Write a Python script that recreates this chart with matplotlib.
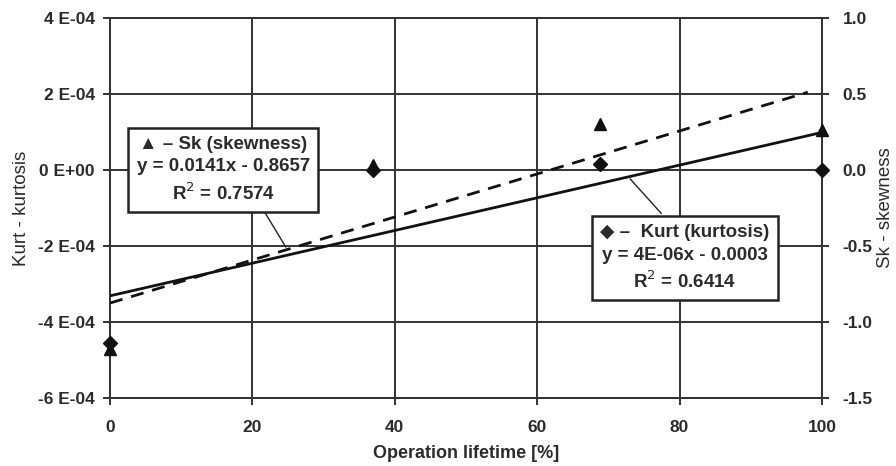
import numpy as np
import matplotlib
matplotlib.use("Agg")
import matplotlib.pyplot as plt

plt.rcParams['font.family'] = ['Liberation Sans', 'DejaVu Sans']

# Data
lifetime = [0, 36.9, 68.8, 100]
kurt = [-4.56e-4, 0.0, 0.16e-4, 0.0]
skew = [-1.18, 0.03, 0.30, 0.26]

kurt_ticks = [-6e-4, -4e-4, -2e-4, 0, 2e-4, 4e-4]
kurt_ticklabels = ["-6 E-04", "-4 E-04", "-2 E-04", "0 E+00", "2 E-04", "4 E-04"]
skew_ticks = [-1.5, -1.0, -0.5, 0.0, 0.5, 1.0]
skew_ticklabels = ["-1.5", "-1.0", "-0.5", "0.0", "0.5", "1.0"]
x_ticks = [0, 20, 40, 60, 80, 100]

sk_label = "\u25B2 \u2013 Sk (skewness)\ny = 0.0141x - 0.8657\nR$^2$ = 0.7574"
ku_label = "\u25C6 \u2013  Kurt (kurtosis)\ny = 4E-06x - 0.0003\nR$^2$ = 0.6414"

TXT = '#2b2b2b'
GRID = '#333333'

fig = plt.figure(figsize=(8.96, 4.66), dpi=100)
ax = fig.add_axes([110/896, 1-398/466, (822-110)/896, (398-18)/466])
ax2 = ax.twinx()
ax.set_zorder(ax2.get_zorder() + 1)
ax.patch.set_visible(False)

ax.set_xlim(0, 100)
ax.set_ylim(-6e-4, 4e-4)
ax2.set_ylim(-1.5, 1.0)

ax.set_xticks(x_ticks)
ax.set_xticklabels([str(t) for t in x_ticks])
ax.set_yticks(kurt_ticks)
ax.set_yticklabels(kurt_ticklabels)
ax2.set_yticks(skew_ticks)
ax2.set_yticklabels(skew_ticklabels)

ax.grid(True, color=GRID, linewidth=1.4, zorder=0)
ax.set_axisbelow(True)
for a in (ax, ax2):
    for s in a.spines.values():
        s.set_color(GRID)
        s.set_linewidth(1.4)
    a.tick_params(axis='both', colors=GRID, labelcolor=TXT, width=1.4, length=5,
                  labelsize=12.5, direction='out')
    for lab in a.get_xticklabels() + a.get_yticklabels():
        lab.set_fontweight('bold')
ax.tick_params(axis='x', pad=11)
ax.tick_params(axis='y', pad=6)
ax2.tick_params(axis='y', pad=10)

T2 = ax2.transData

# Trend lines
xs = np.array([0, 100])
pk = np.polyfit(lifetime, kurt, 1)
ps = np.polyfit(lifetime, skew, 1)
ax.plot(xs, np.polyval(pk, xs), color='#111111', linewidth=2.0, zorder=3)
ax.plot([0, 98], np.polyval(ps, [0, 98]), color='#111111', linewidth=2.0,
        dashes=(4.7, 3.2), zorder=3, transform=T2)

# Markers (triangles below diamonds)
ax.plot(lifetime, skew, linestyle='none', marker='^', markersize=8.5,
        color='#111111', zorder=4, clip_on=False, transform=T2)
ax.plot(lifetime, kurt, linestyle='none', marker='D', markersize=7,
        color='#111111', zorder=5, clip_on=False)

ax.set_xlabel("Operation lifetime [%]", fontsize=13, fontweight='bold', color=TXT, labelpad=7)
ax.set_ylabel("Kurt - kurtosis", fontsize=13.5, color=TXT, labelpad=6)
ax2.set_ylabel("Sk - skewness", fontsize=13.5, color=TXT, labelpad=3)

# Annotation boxes with leader lines
bbox = dict(boxstyle='square,pad=0.45', facecolor='white', edgecolor='#222222', linewidth=1.8)
xl_s = 24.9
ax.annotate("", xy=(xl_s, np.polyval(ps, xl_s)), xytext=(21.5, -0.26),
            xycoords=T2, textcoords=T2,
            arrowprops=dict(arrowstyle='-', color='#222222', lw=1.0), zorder=6)
ax.text(15.9, 0.0, sk_label, ha='center', va='center', fontsize=13.5,
        fontweight='bold', color=TXT, linespacing=1.4, bbox=bbox, zorder=7,
        transform=T2)

xl_k = 72.8
ax.annotate("", xy=(xl_k, np.polyval(pk, xl_k)), xytext=(77.7, -1.2e-4),
            arrowprops=dict(arrowstyle='-', color='#222222', lw=1.0), zorder=6)
ax.text(80.7, -0.58, ku_label, ha='center', va='center', fontsize=13.5,
        fontweight='bold', color=TXT, linespacing=1.4, bbox=bbox, zorder=7,
        transform=T2)

fig.savefig("out.png", dpi=100)
